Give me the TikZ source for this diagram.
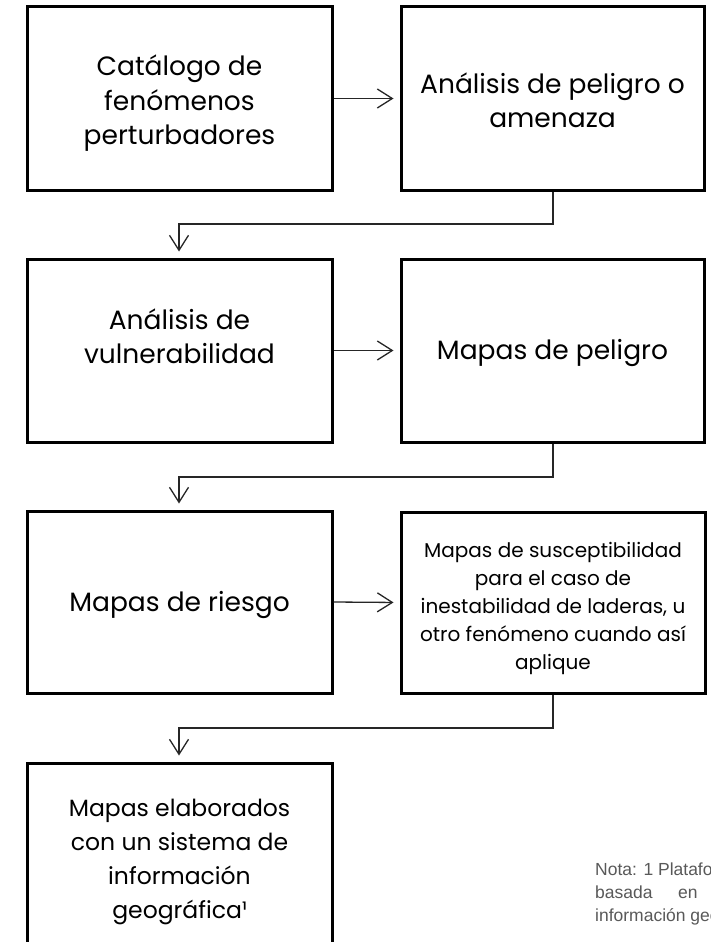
\documentclass[tikz,border=0pt]{standalone}
\usepackage{fontspec}
\setmainfont{Poppins}
\newfontfamily\notefont{Liberation Sans}
\usetikzlibrary{arrows.meta}
\definecolor{notegrey}{HTML}{595959}
\newcommand\boxlines[2]{\raisebox{#1}[\height][\depth]{\begin{tabular}{@{}c@{}}#2\end{tabular}}}
\tikzset{
  box/.style={draw=black, line width=3pt, rectangle, align=center, inner sep=0pt,
    font=\fontsize{26.5}{34.5}\selectfont},
  smalltext/.style={font=\fontsize{20}{28}\selectfont},
  midtext/.style={font=\fontsize{23.5}{34}\selectfont},
  notetext/.style={anchor=base west, inner sep=0pt, text=notegrey,
    font=\notefont\fontsize{17.5}{23}\selectfont},
  link/.style={draw=black!85, line width=1.3pt,
    -{Straight Barb[length=15pt,width=19pt]}, shorten >=6pt},
}
\begin{document}
\begin{tikzpicture}[x=1pt,y=-1pt]
\useasboundingbox (0,0) rectangle (711,942);
\fill[white] (0,0) rectangle (711,942);
\begin{scope}
\clip (0,0) rectangle (711,942);
\node[box, minimum width=305pt, minimum height=183pt] (b1) at (179.5,98.5) {\boxlines{-5pt}{Catálogo de\\fenómenos\\perturbadores}};
\node[box, minimum width=303pt, minimum height=183pt] (b2) at (552.5,98.5) {\boxlines{-5pt}{Análisis de peligro o\\amenaza}};
\node[box, minimum width=305pt, minimum height=183pt] (b3) at (179.5,350.5) {\boxlines{11pt}{Análisis de\\vulnerabilidad}};
\node[box, minimum width=303pt, minimum height=183pt] (b4) at (552.5,350.5) {\boxlines{-2pt}{Mapas de peligro}};
\node[box, minimum width=305pt, minimum height=182pt] (b5) at (179.5,602) {\boxlines{-3pt}{Mapas de riesgo}};
\node[box, smalltext, minimum width=304pt, minimum height=181pt] (b6) at (553,602.5) {\boxlines{-5pt}{Mapas de susceptibilidad\\para el caso de\\inestabilidad de laderas, u\\otro fenómeno cuando así\\aplique}};
\node[box, midtext, minimum width=305pt, minimum height=183pt] (b7) at (179.5,854.5) {\boxlines{-6pt}{Mapas elaborados\\con un sistema de\\información\\geográfica¹}};

\coordinate (c1) at (553,224);
\coordinate (d1) at (179,224);
\coordinate (c2) at (553,477);
\coordinate (d2) at (179,477);
\coordinate (c3) at (553,728);
\coordinate (d3) at (179,728);

\draw[link] (b1.east) -- (b2.west);
\draw[link] (b3.east) -- (b4.west);
\draw[link] (b5.east) -- (b6.west);
\draw[link] (b2.south -| c1) -- (c1) -- (d1) -- (d1 |- b3.north);
\draw[link] (b4.south -| c2) -- (c2) -- (d2) -- (d2 |- b5.north);
\draw[link] (b6.south -| c3) -- (c3) -- (d3) -- (d3 |- b7.north);

\node[notetext] (n1) at (595,875) {Nota: 1 Plataforma};
\node[notetext] (n2) at (595,898) {basada};
\node[notetext] (n3) at (678,898) {en};
\node[notetext] (n4) at (595,921) {información geográfica};
\end{scope}
\end{tikzpicture}
\end{document}
